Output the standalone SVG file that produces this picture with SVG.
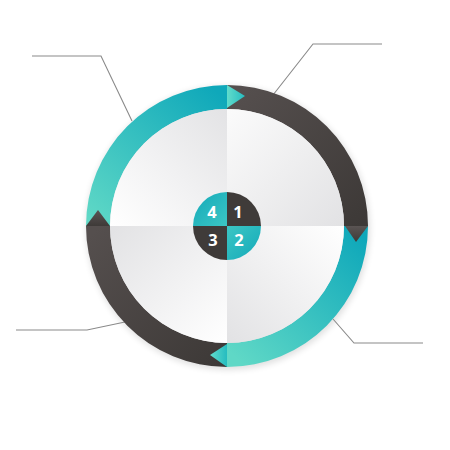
<svg xmlns="http://www.w3.org/2000/svg" width="450" height="450" viewBox="0 0 450 450">
<defs>
<linearGradient id="tealTL" gradientUnits="userSpaceOnUse" x1="95" y1="225" x2="215" y2="90"><stop offset="0" stop-color="#5fd8c6"/><stop offset="1" stop-color="#0fa8ba"/></linearGradient>
<linearGradient id="tealBR" gradientUnits="userSpaceOnUse" x1="240" y1="362" x2="360" y2="235"><stop offset="0" stop-color="#5fd8c6"/><stop offset="1" stop-color="#0fa8ba"/></linearGradient>
<linearGradient id="darkTR" gradientUnits="userSpaceOnUse" x1="240" y1="88" x2="365" y2="220"><stop offset="0" stop-color="#554f4e"/><stop offset="1" stop-color="#3d3937"/></linearGradient>
<linearGradient id="darkBL" gradientUnits="userSpaceOnUse" x1="90" y1="235" x2="220" y2="365"><stop offset="0" stop-color="#554f4e"/><stop offset="1" stop-color="#3d3937"/></linearGradient>
<linearGradient id="wTL" x1="0" y1="1" x2="1" y2="0"><stop offset="0" stop-color="#ffffff"/><stop offset="1" stop-color="#e3e3e5"/></linearGradient>
<linearGradient id="wTR" x1="0" y1="0" x2="1" y2="1"><stop offset="0" stop-color="#fbfbfb"/><stop offset="1" stop-color="#e2e2e4"/></linearGradient>
<linearGradient id="wBL" x1="0" y1="0" x2="1" y2="1"><stop offset="0" stop-color="#e2e2e4"/><stop offset="1" stop-color="#ffffff"/></linearGradient>
<linearGradient id="wBR" x1="0" y1="1" x2="1" y2="0"><stop offset="0" stop-color="#e2e2e4"/><stop offset="1" stop-color="#ffffff"/></linearGradient>
<linearGradient id="cTeal" x1="0" y1="0" x2="1" y2="1"><stop offset="0" stop-color="#13a9b9"/><stop offset="1" stop-color="#3cc6c4"/></linearGradient>
<linearGradient id="cTeal2" x1="0" y1="0" x2="1" y2="1"><stop offset="0" stop-color="#3cc6c4"/><stop offset="1" stop-color="#13a9b9"/></linearGradient>
<linearGradient id="arrT" x1="0" y1="0" x2="1" y2="0"><stop offset="0" stop-color="#62dccb"/><stop offset="1" stop-color="#25bcc0"/></linearGradient>
<linearGradient id="arrD" x1="0" y1="0" x2="0" y2="1"><stop offset="0" stop-color="#5a5453"/><stop offset="1" stop-color="#3e3a38"/></linearGradient>
<filter id="sh" x="-20%" y="-20%" width="140%" height="140%"><feGaussianBlur stdDeviation="3"/></filter>
</defs>
<style>
.lead{fill:none;stroke:#8a8a8a;stroke-width:1.1}
.num{font-family:"Open Sans","DejaVu Sans",sans-serif;font-weight:bold;font-size:16.5px;fill:#ffffff;text-anchor:middle}
</style>
<rect width="450" height="450" fill="#ffffff"/>
<circle cx="228" cy="228" r="142" fill="#000" opacity="0.12" filter="url(#sh)"/>
<g id="connectors">
<polyline class="lead" points="32,56 101,56 132,121"/>
<polyline class="lead" points="273,95 313,44 382,44"/>
<polyline class="lead" points="16,330 87,330 125,322"/>
<polyline class="lead" points="333,319 354,343 423,343"/>
</g>
<g id="quadrant-4">
<path d="M 86 226 A 141 141 0 0 1 227 85 L 227 109 A 117 117 0 0 0 110 226 Z" fill="url(#tealTL)"/>
<path d="M 227 226 L 110 226 A 117 117 0 0 1 227 109 Z" fill="url(#wTL)"/>
</g>
<g id="quadrant-1">
<path d="M 227 85 A 141 141 0 0 1 368 226 L 344 226 A 117 117 0 0 0 227 109 Z" fill="url(#darkTR)"/>
<path d="M 227 226 L 227 109 A 117 117 0 0 1 344 226 Z" fill="url(#wTR)"/>
</g>
<g id="quadrant-2">
<path d="M 368 226 A 141 141 0 0 1 227 367 L 227 343 A 117 117 0 0 0 344 226 Z" fill="url(#tealBR)"/>
<path d="M 227 226 L 344 226 A 117 117 0 0 1 227 343 Z" fill="url(#wBR)"/>
</g>
<g id="quadrant-3">
<path d="M 227 367 A 141 141 0 0 1 86 226 L 110 226 A 117 117 0 0 0 227 343 Z" fill="url(#darkBL)"/>
<path d="M 227 226 L 227 343 A 117 117 0 0 1 110 226 Z" fill="url(#wBL)"/>
</g>
<g id="arrows">
<polygon points="227,85 227,108 245,96" fill="url(#arrT)"/>
<polygon points="345,226 368,226 356,242" fill="url(#arrD)"/>
<polygon points="227,344 227,367 210,355" fill="url(#arrT)"/>
<polygon points="86,226 110,226 98,210" fill="url(#arrD)"/>
</g>
<g id="center">
<path d="M 227 226 L 193 226 A 34 34 0 0 1 227 192 Z" fill="url(#cTeal)"/>
<path d="M 227 226 L 227 192 A 34 34 0 0 1 261 226 Z" fill="#3f3b39"/>
<path d="M 227 226 L 261 226 A 34 34 0 0 1 227 260 Z" fill="url(#cTeal2)"/>
<path d="M 227 226 L 227 260 A 34 34 0 0 1 193 226 Z" fill="#3f3b39"/>
<text class="num" x="212" y="217.5">4</text>
<text class="num" x="238" y="217.5">1</text>
<text class="num" x="213" y="246">3</text>
<text class="num" x="239" y="246">2</text>
</g>
</svg>
